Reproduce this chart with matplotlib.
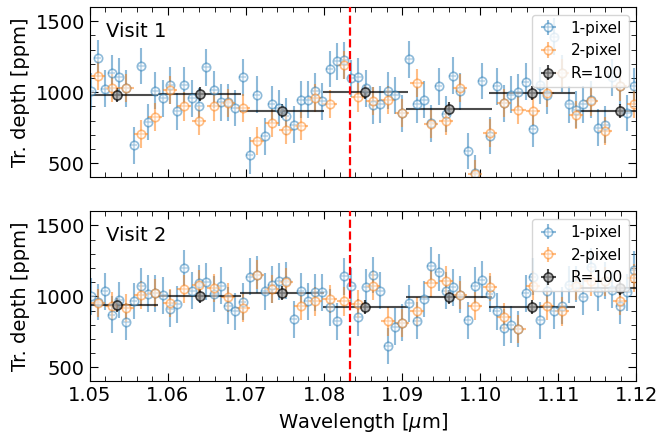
import numpy as np
import matplotlib
matplotlib.use("Agg")
import matplotlib.pyplot as plt
from matplotlib.ticker import MultipleLocator

# ---------------------------------------------------------------------------
# DATOS

# malla de longitud de onda de 1 pixel [um]
wl_1pix = [1.0501, 1.0510, 1.0519, 1.0528, 1.0538, 1.0547, 1.0556, 1.0566, 1.0575, 1.0584,
           1.0594, 1.0603, 1.0612, 1.0621, 1.0631, 1.0640, 1.0649, 1.0659, 1.0668, 1.0677,
           1.0686, 1.0696, 1.0705, 1.0714, 1.0724, 1.0733, 1.0742, 1.0751, 1.0761, 1.0770,
           1.0779, 1.0789, 1.0798, 1.0807, 1.0817, 1.0826, 1.0835, 1.0844, 1.0854, 1.0863,
           1.0872, 1.0882, 1.0891, 1.0900, 1.0909, 1.0919, 1.0928, 1.0937, 1.0947, 1.0956,
           1.0965, 1.0974, 1.0984, 1.0993, 1.1002, 1.1012, 1.1021, 1.1030, 1.1039, 1.1049,
           1.1058, 1.1067, 1.1077, 1.1086, 1.1095, 1.1105, 1.1114, 1.1123, 1.1132, 1.1142,
           1.1151, 1.1160, 1.1169, 1.1179, 1.1188, 1.1197]
# los bins de 2 pixeles caen sobre cada segundo pixel
wl_2pix = wl_1pix[1::2]

wl_r100 = [1.0535, 1.0641, 1.0746, 1.0853, 1.0960, 1.1066, 1.1179]
hw_r100 = [0.0053, 0.0053, 0.0054, 0.0054, 0.0055, 0.0055, 0.0056]

# profundidades [ppm]
v1_1pix = [1005, 1238, 1023, 1133, 1110, 1028, 626, 1184, 790, 1009,
           958, 1047, 865, 1047, 958, 900, 1175, 1016, 930, 930,
           888, 1105, 556, 981, 689, 916, 888, 830, 771, 946,
           946, 1005, 935, 1163, 1219, 1226, 1098, 1110, 1028, 907,
           916, 1009, 977, 850, 1233, 916, 946, 780, 1040, 846,
           1117, 1005, 585, 430, 1079, 693, 1040, 923, 983, 998,
           1075, 743, 1047, 977, 1390, 1133, 916, 876, 916, 946,
           748, 771, 1105, 1040, 853, 1040]
v1_2pix = [1117, 1028, 1028, 706, 825, 1016, 900, 799, 900, 923,
           888, 654, 783, 736, 760, 958, 916, 1191, 963, 939,
           946, 853, 1063, 776, 799, 1028, 425, 713, 923, 876,
           865, 993, 1133, 841, 935, 725, 1040, 916]
v1_r100 = [981, 988, 869, 1000, 881, 993, 869]

v2_1pix = [1000, 960, 1035, 872, 974, 822, 967, 1070, 1020, 1021,
           1009, 912, 945, 1200, 1040, 1092, 1104, 1017, 1076, 934,
           894, 962, 1139, 1154, 1035, 1083, 1106, 1111, 839, 1035,
           965, 1028, 1028, 922, 823, 1142, 1071, 851, 1064, 1151,
           1040, 650, 785, 815, 950, 827, 981, 1217, 1170, 1040,
           1064, 1012, 832, 1076, 1116, 1017, 894, 780, 799, 770,
           1021, 1139, 832, 1035, 898, 934, 1083, 1087, 998, 1210,
           1028, 1111, 1045, 934, 1028, 1187]
v2_2pix = [955, 934, 920, 1010, 1024, 951, 1052, 1083, 1059, 993,
           917, 1154, 1052, 1099, 934, 965, 981, 965, 946, 1076,
           823, 811, 894, 1092, 1111, 1008, 934, 1064, 856, 768,
           1076, 934, 894, 1076, 1106, 1106, 969, 1130]
v2_r100 = [941, 1005, 1024, 927, 998, 927, 1059]

err_1pix = 130
err_2pix = 100
err_r100 = 50

linea_he = 1.0833
visitas = ["Visit 1", "Visit 2"]

# ---------------------------------------------------------------------------
# GRAFICA

plt.rcParams["font.size"] = 14

fig, axs = plt.subplots(2, 1, figsize=(6.65, 4.42), dpi=100, sharex=True)
fig.subplots_adjust(left=0.135, right=0.957, bottom=0.137, top=0.984, hspace=0.2)

datos = [(v1_1pix, v1_2pix, v1_r100), (v2_1pix, v2_2pix, v2_r100)]

for ax, (d1, d2, d100), nombre in zip(axs, datos, visitas):
    ax.errorbar(wl_1pix, d1, yerr=err_1pix, xerr=0.00046, fmt="o", color="C0",
                mfc="w", ms=6, mew=1.2, lw=1.5, alpha=0.5, label="1-pixel")
    ax.errorbar(wl_2pix, d2, yerr=err_2pix, xerr=0.0009, fmt="o", color="C1",
                mfc="w", ms=6, mew=1.2, lw=1.5, alpha=0.5, label="2-pixel")
    ax.errorbar(wl_r100, d100, yerr=err_r100, xerr=hw_r100, fmt="o", color="k",
                mfc="0.6", ms=6.5, mew=1.2, lw=1.5, alpha=0.7, label="R=100")
    ax.axvline(linea_he, color="r", ls="--", lw=1.6, zorder=5)

    ax.text(0.03, 0.855, nombre, transform=ax.transAxes, fontsize=14, va="center")
    ax.set_ylabel("Tr. depth [ppm]", fontsize=14)
    ax.set_ylim(400, 1600)
    ax.set_xlim(1.05, 1.12)
    ax.yaxis.set_major_locator(MultipleLocator(500))
    ax.yaxis.set_minor_locator(MultipleLocator(100))
    ax.xaxis.set_major_locator(MultipleLocator(0.01))
    ax.xaxis.set_minor_locator(MultipleLocator(0.002))
    ax.tick_params(which="both", direction="in", top=True, right=True, labelsize=14)
    ax.tick_params(which="major", length=6)
    ax.tick_params(which="minor", length=3.5)
    ax.legend(loc="upper right", fontsize=11, handlelength=1.3)

axs[1].set_xlabel(r"Wavelength [$\mu$m]", fontsize=14)

plt.savefig("out.png", dpi=100)
